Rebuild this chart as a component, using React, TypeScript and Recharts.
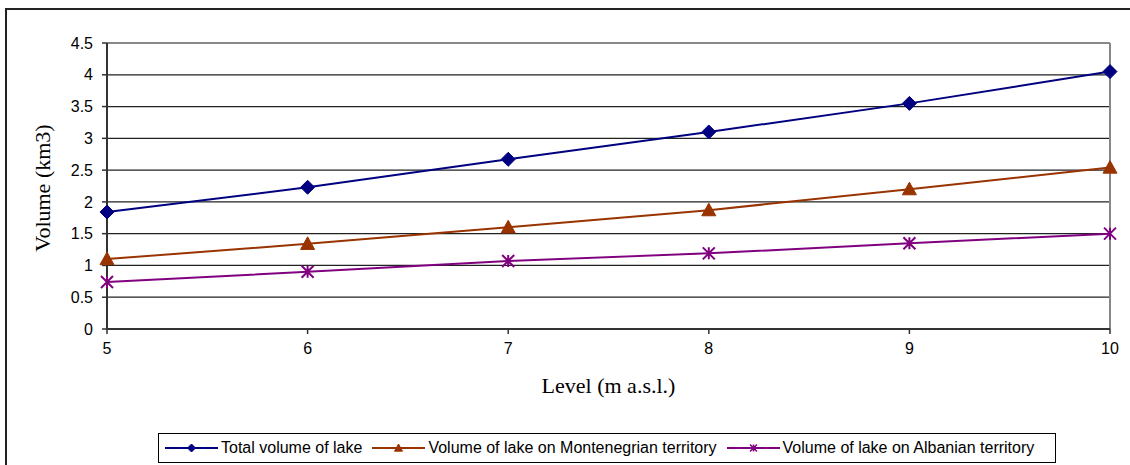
import React from 'react';
import { LineChart, Line, XAxis, YAxis, CartesianGrid, ReferenceLine } from 'recharts';

const levels = [5, 6, 7, 8, 9, 10];
const totalVolume = [1.84, 2.23, 2.67, 3.1, 3.55, 4.05];
const montenegroVolume = [1.1, 1.34, 1.6, 1.87, 2.2, 2.54];
const albaniaVolume = [0.74, 0.9, 1.07, 1.19, 1.35, 1.5];
const yTicks = [0, 0.5, 1, 1.5, 2, 2.5, 3, 3.5, 4, 4.5];
const seriesNames = [
  'Total volume of lake',
  'Volume of lake on Montenegrian territory',
  'Volume of lake on Albanian territory',
];
const xTitle = 'Level (m a.s.l.)';
const yTitle = 'Volume (km3)';

const data = levels.map((lv, i) => ({
  level: lv,
  total: totalVolume[i],
  montenegro: montenegroVolume[i],
  albania: albaniaVolume[i],
}));

const COLORS = ['#000080', '#993300', '#800080'];

const Diamond = (r: number, color: string) => (props: any) => {
  const { cx, cy } = props;
  if (cx == null || cy == null) return null;
  return (
    <path
      d={`M${cx},${cy - r} L${cx + r},${cy} L${cx},${cy + r} L${cx - r},${cy} Z`}
      fill={color}
      stroke={color}
    />
  );
};
const Triangle = (r: number, color: string) => (props: any) => {
  const { cx, cy } = props;
  if (cx == null || cy == null) return null;
  return (
    <path
      d={`M${cx},${cy - r} L${cx + r},${cy + r * 0.8} L${cx - r},${cy + r * 0.8} Z`}
      fill={color}
      stroke={color}
    />
  );
};
const Star = (r: number, color: string, w: number) => (props: any) => {
  const { cx, cy } = props;
  if (cx == null || cy == null) return null;
  return (
    <path
      d={`M${cx - r},${cy - r} L${cx + r},${cy + r} M${cx - r},${cy + r} L${cx + r},${cy - r} M${cx},${cy - r} L${cx},${cy + r}`}
      fill="none"
      stroke={color}
      strokeWidth={w}
    />
  );
};

const chartMarkers = [Diamond(7, COLORS[0]), Triangle(7, COLORS[1]), Star(6, COLORS[2], 2)];
const legendMarkers = [Diamond(4, COLORS[0]), Triangle(4, COLORS[1]), Star(3.5, COLORS[2], 1.5)];

const XTitle = (props: any) => {
  const vb = props.viewBox || {};
  return (
    <text
      x={vb.x + vb.width / 2}
      y={388}
      textAnchor="middle"
      dominantBaseline="middle"
      fontFamily="'Liberation Serif', 'Times New Roman', serif"
      fontSize={22}
      fill="#000"
    >
      {xTitle}
    </text>
  );
};

const YTitle = () => (
  <text
    x={45}
    y={188}
    textAnchor="middle"
    dominantBaseline="middle"
    transform="rotate(-90 45 188)"
    fontFamily="'Liberation Serif', 'Times New Roman', serif"
    fontSize={22}
    fill="#000"
  >
    {yTitle}
  </text>
);

const tickStyle = { fontFamily: "'Liberation Sans', Arial, sans-serif", fontSize: 16, fill: '#000' };

export default function App() {
  return (
    <div
      style={{
        position: 'absolute',
        left: 0,
        top: 0,
        width: 1130,
        height: 465,
        background: '#fff',
        overflow: 'hidden',
      }}
    >
      <div
        style={{
          position: 'absolute',
          left: 5,
          top: 8,
          width: 1200,
          height: 600,
          borderLeft: '2px solid #222',
          borderTop: '2px solid #222',
        }}
      />
      <div style={{ position: 'absolute', left: 0, top: 0 }}>
        <LineChart
          width={1130}
          height={465}
          data={data}
          margin={{ top: 43, right: 20, left: 0, bottom: 76 }}
        >
          <CartesianGrid vertical={false} stroke="#222" strokeWidth={1.2} />
          <ReferenceLine y={4.5} stroke="#888" strokeWidth={2} />
          <ReferenceLine x={10} stroke="#888" strokeWidth={2} />
          <XAxis
            dataKey="level"
            type="number"
            domain={[5, 10]}
            ticks={levels}
            height={60}
            tick={tickStyle}
            tickSize={5}
            tickMargin={9}
            axisLine={{ stroke: '#333', strokeWidth: 2 }}
            tickLine={{ stroke: '#333', strokeWidth: 1.5 }}
            label={<XTitle />}
          />
          <YAxis
            width={107}
            type="number"
            domain={[0, 4.5]}
            ticks={yTicks}
            tick={tickStyle}
            tickSize={5}
            tickMargin={9}
            interval={0}
            axisLine={{ stroke: '#333', strokeWidth: 2 }}
            tickLine={{ stroke: '#333', strokeWidth: 1.5 }}
            label={<YTitle />}
          />
          <Line
            dataKey="total"
            name={seriesNames[0]}
            stroke={COLORS[0]}
            strokeWidth={2}
            dot={chartMarkers[0]}
            isAnimationActive={false}
          />
          <Line
            dataKey="montenegro"
            name={seriesNames[1]}
            stroke={COLORS[1]}
            strokeWidth={2}
            dot={chartMarkers[1]}
            isAnimationActive={false}
          />
          <Line
            dataKey="albania"
            name={seriesNames[2]}
            stroke={COLORS[2]}
            strokeWidth={2}
            dot={chartMarkers[2]}
            isAnimationActive={false}
          />
        </LineChart>
      </div>
      <div
        style={{
          position: 'absolute',
          left: 158,
          top: 433,
          width: 896,
          height: 28,
          border: '1px solid #000',
          display: 'flex',
          alignItems: 'center',
          fontFamily: "'Liberation Sans', Arial, sans-serif",
          fontSize: 16,
          color: '#000',
          boxSizing: 'content-box',
        }}
      >
        {seriesNames.map((name, i) => {
          const M = legendMarkers[i];
          return (
            <div
              key={name}
              style={{ display: 'flex', alignItems: 'center', marginLeft: i === 0 ? 6 : 10 }}
            >
              <svg width={53} height={14} style={{ display: 'block' }}>
                <line x1={0} y1={7} x2={53} y2={7} stroke={COLORS[i]} strokeWidth={2} />
                {M({ cx: 26.5, cy: 7 })}
              </svg>
              <span style={{ marginLeft: 3, whiteSpace: 'nowrap' }}>{name}</span>
            </div>
          );
        })}
      </div>
    </div>
  );
}
